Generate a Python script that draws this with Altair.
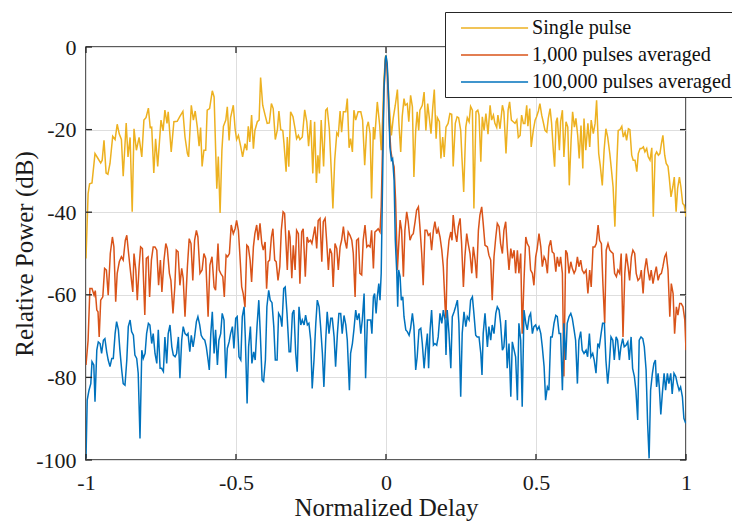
import altair as alt
import pandas as pd

# ---------------- data ----------------
series_names = ["Single pulse", "1,000 pulses averaged", "100,000 pulses averaged"]
series_colors = ["#EDB120", "#D95319", "#0072BD"]

single_x = [
    -1.000,-0.993,-0.988,-0.980,-0.970,-0.960,-0.951,-0.946,-0.940,-0.933,
    -0.927,-0.920,-0.911,-0.903,-0.896,-0.889,-0.882,-0.876,-0.866,-0.860,
    -0.853,-0.846,-0.840,-0.832,-0.823,-0.814,-0.807,-0.800,-0.792,-0.786,
    -0.781,-0.774,-0.768,-0.761,-0.750,-0.743,-0.737,-0.730,-0.726,-0.716,
    -0.707,-0.696,-0.687,-0.677,-0.670,
    -0.662,-0.658,-0.649,-0.642,-0.636,-0.629,-0.623,-0.618,-0.613,-0.607,
    -0.601,-0.596,-0.588,-0.579,-0.573,-0.564,-0.559,-0.553,-0.547,-0.542,
    -0.534,-0.529,-0.523,-0.518,-0.509,-0.503,-0.498,-0.492,-0.484,-0.478,
    -0.470,-0.464,-0.459,-0.454,-0.448,-0.442,-0.437,-0.429,-0.423,-0.418,
    -0.411,-0.403,-0.396,-0.389,-0.382,-0.376,-0.369,-0.362,-0.357,-0.351,
    -0.344,-0.340,-0.333,
    -0.329,-0.324,-0.318,-0.310,-0.303,-0.298,-0.292,-0.287,-0.279,-0.271,
    -0.264,-0.258,-0.251,-0.244,-0.238,-0.232,-0.227,-0.222,-0.216,-0.208,
    -0.201,-0.196,-0.189,-0.182,-0.177,-0.171,-0.164,-0.159,-0.153,-0.148,
    -0.142,-0.134,-0.129,-0.123,-0.118,-0.112,-0.107,-0.101,-0.093,-0.084,
    -0.078,-0.071,-0.064,-0.059,-0.053,-0.048,-0.042,-0.038,-0.029,-0.021,
    -0.016,-0.011,-0.007,-0.002,
    0.000,0.004,0.011,0.018,0.024,0.031,0.038,0.043,0.049,0.054,
    0.060,0.064,0.071,0.076,0.082,0.088,0.093,0.099,0.104,0.109,
    0.113,0.121,0.127,0.133,0.139,0.144,0.150,0.156,0.161,0.167,
    0.171,0.178,0.183,0.189,0.194,0.200,0.207,0.213,0.219,0.224,
    0.231,0.237,0.242,0.249,0.253,0.259,0.266,0.271,0.277,0.282,
    0.288,0.293,0.300,0.306,0.310,0.316,0.321,0.327,0.333,
    0.340,0.347,0.352,0.358,0.363,0.369,0.373,0.380,0.388,0.393,
    0.400,0.407,0.412,0.418,0.424,0.430,0.436,0.441,0.447,0.452,
    0.458,0.463,0.469,0.473,0.479,0.484,0.491,0.497,0.502,0.508,
    0.513,0.519,0.524,0.530,0.536,0.541,0.547,0.552,0.558,0.562,
    0.567,0.571,0.578,0.582,0.588,0.593,0.600,0.606,0.611,0.617,
    0.622,0.628,0.633,0.639,0.644,0.650,0.656,0.660,
    0.666,0.673,0.679,0.684,0.691,0.697,0.702,0.709,0.714,0.721,
    0.727,0.733,0.739,0.746,0.751,0.757,0.763,0.769,0.774,0.780,
    0.786,0.791,0.797,0.802,0.808,0.813,0.819,0.824,0.830,0.836,
    0.841,0.847,0.852,0.858,0.863,0.869,0.874,0.880,0.886,0.891,
    0.897,0.902,0.908,0.913,0.918,0.923,0.929,0.934,0.940,0.944,
    0.950,0.956,0.961,0.967,0.972,0.978,0.983,0.989,0.994,1.000,
]
single_db = [
    -51.2,-35.5,-33.1,-32.9,-25.8,-27.0,-28.1,-27.4,-22.6,-30.5,
    -30.8,-28.2,-21.6,-22.4,-18.7,-21.1,-22.4,-31.3,-18.4,-26.6,
    -21.9,-39.9,-19.8,-25.0,-21.9,-26.6,-17.7,-17.1,-14.8,-19.5,
    -19.4,-30.5,-22.2,-28.9,-17.7,-20.3,-15.3,-18.5,-15.7,-25.4,
    -18.1,-18.0,-16.8,-15.6,-21.8,
    -25.8,-26.6,-14.1,-17.7,-15.5,-19.4,-24.0,-19.5,-28.9,-25.0,
    -25.0,-15.3,-14.9,-10.6,-12.1,-34.3,-26.5,-40.2,-25.0,-19.2,
    -17.7,-14.5,-22.6,-17.1,-14.1,-19.8,-22.4,-21.4,-24.2,-26.6,
    -23.4,-25.0,-19.2,-23.0,-16.5,-24.6,-20.2,-18.1,-17.7,-7.4,
    -14.1,-16.5,-18.5,-18.4,-13.7,-14.9,-22.4,-20.0,-15.5,-20.0,
    -20.2,-23.4,-30.2,
    -21.8,-29.0,-15.7,-16.9,-19.8,-22.2,-21.4,-22.4,-21.8,-15.2,
    -18.1,-24.0,-17.7,-30.6,-18.1,-32.9,-26.2,-30.6,-17.7,-28.9,
    -15.3,-14.9,-19.8,-30.6,-39.1,-27.4,-20.8,-21.4,-15.5,-20.6,
    -15.7,-15.7,-12.5,-24.4,-22.2,-25.4,-15.3,-17.7,-15.7,-15.7,
    -17.7,-28.6,-19.4,-18.1,-21.0,-36.7,-19.4,-22.4,-13.3,-19.0,
    -25.0,-16.9,-8.1,-2.4,
    -2.0,-4.8,-14.5,-21.4,-17.3,-14.1,-10.3,-18.5,-25.4,-16.9,
    -12.5,-14.1,-13.7,-18.1,-11.7,-14.5,-31.5,-20.2,-15.7,-20.2,
    -15.3,-14.1,-10.9,-20.2,-13.7,-16.9,-21.0,-14.5,-10.3,-22.2,
    -17.1,-18.1,-27.0,-21.8,-26.6,-19.4,-18.5,-16.1,-16.3,-28.9,
    -18.5,-16.9,-17.1,-20.2,-26.6,-35.1,-19.4,-17.1,-18.1,-14.4,
    -15.3,-39.1,-15.7,-15.3,-16.5,-27.8,-16.9,-20.2,-16.1,
    -21.1,-14.1,-17.7,-16.5,-18.5,-19.5,-16.5,-19.8,-14.1,-15.7,
    -25.8,-15.3,-13.3,-17.7,-18.1,-18.5,-17.7,-21.9,-21.4,-16.5,
    -18.5,-18.5,-14.1,-19.2,-14.9,-24.2,-20.2,-17.7,-16.9,-15.5,
    -13.7,-16.5,-18.1,-20.2,-20.6,-17.3,-14.9,-18.5,-25.4,-29.0,
    -18.1,-17.1,-25.0,-18.1,-15.3,-26.6,-18.1,-19.4,-33.5,-22.6,
    -15.7,-19.4,-17.3,-21.4,-27.0,-19.0,-29.4,-17.3,
    -25.0,-18.5,-24.2,-17.7,-21.0,-18.5,-12.9,-25.8,-28.6,-33.5,
    -25.0,-19.8,-21.8,-25.8,-29.4,-33.9,-43.5,-29.0,-20.2,-20.0,
    -19.2,-21.8,-20.6,-22.6,-19.8,-20.0,-26.2,-27.4,-27.4,-30.2,
    -25.8,-24.6,-24.6,-24.2,-25.4,-24.6,-26.6,-27.4,-24.4,-41.1,
    -26.2,-25.4,-26.2,-25.8,-23.4,-21.4,-26.2,-28.2,-28.9,-31.5,
    -36.3,-33.9,-31.5,-39.9,-34.3,-31.5,-33.9,-37.9,-38.3,-41.1,
]

avg1k_x = [
    -1.000,-0.993,-0.987,-0.980,-0.973,-0.969,-0.964,-0.960,-0.956,-0.951,
    -0.944,-0.938,-0.932,-0.926,-0.919,-0.912,-0.907,-0.901,-0.896,-0.889,
    -0.882,-0.876,-0.869,-0.864,-0.858,-0.851,-0.844,-0.840,-0.834,-0.829,
    -0.823,-0.818,-0.812,-0.804,-0.799,-0.793,-0.788,-0.782,-0.776,-0.770,
    -0.764,-0.758,-0.752,-0.747,-0.740,-0.734,-0.729,-0.722,-0.717,-0.710,
    -0.704,-0.699,-0.693,-0.687,-0.681,-0.676,-0.670,
    -0.662,-0.656,-0.650,-0.644,-0.638,-0.632,-0.627,-0.620,-0.613,-0.607,
    -0.601,-0.593,-0.587,-0.580,-0.573,-0.568,-0.560,-0.556,-0.551,-0.544,
    -0.539,-0.533,-0.528,-0.522,-0.516,-0.509,-0.503,-0.498,-0.492,-0.487,
    -0.481,-0.476,-0.470,-0.464,-0.459,-0.453,-0.448,-0.442,-0.437,-0.431,
    -0.426,-0.420,-0.414,-0.409,-0.403,-0.398,-0.393,-0.388,-0.382,-0.377,
    -0.371,-0.366,-0.360,-0.354,-0.349,-0.343,-0.338,
    -0.329,-0.324,-0.320,-0.314,-0.309,-0.303,-0.298,-0.292,-0.287,-0.281,
    -0.276,-0.269,-0.263,-0.258,-0.252,-0.247,-0.241,-0.237,-0.231,-0.226,
    -0.220,-0.214,-0.209,-0.203,-0.198,-0.192,-0.187,-0.181,-0.176,-0.170,
    -0.164,-0.159,-0.153,-0.148,-0.142,-0.137,-0.131,-0.126,-0.120,-0.114,
    -0.109,-0.103,-0.098,-0.092,-0.087,-0.081,-0.076,-0.070,-0.064,-0.059,
    -0.053,-0.048,-0.042,-0.037,-0.031,-0.026,-0.020,-0.016,-0.011,-0.007,-0.002,
    0.000,0.004,0.010,0.016,0.021,0.027,0.032,0.038,0.042,0.047,
    0.052,0.058,0.063,0.069,0.074,0.080,0.086,0.091,0.097,0.102,
    0.108,0.113,0.119,0.124,0.130,0.136,0.141,0.147,0.152,0.158,
    0.163,0.169,0.174,0.180,0.186,0.191,0.197,0.200,0.204,0.210,
    0.216,0.220,0.224,0.230,0.236,0.241,0.247,0.252,0.258,0.263,
    0.269,0.274,0.280,0.286,0.291,0.297,0.302,0.308,0.313,0.319,
    0.324,0.330,
    0.338,0.343,0.349,0.354,0.360,0.366,0.371,0.377,0.382,0.388,
    0.393,0.399,0.404,0.410,0.416,0.421,0.427,0.432,0.438,0.443,
    0.449,0.454,0.460,0.466,0.471,0.477,0.482,0.488,0.493,0.499,
    0.504,0.510,0.516,0.521,0.527,0.532,0.538,0.543,0.549,0.554,
    0.560,0.566,0.571,0.577,0.582,0.588,0.593,0.599,0.604,0.610,
    0.616,0.621,0.627,0.632,0.638,0.643,0.649,0.654,0.660,
    0.667,0.673,0.679,0.684,0.690,0.696,0.701,0.707,0.712,0.718,
    0.723,0.729,0.734,0.740,0.746,0.751,0.757,0.762,0.768,0.773,
    0.779,0.784,0.790,0.796,0.801,0.807,0.812,0.818,0.823,0.829,
    0.834,0.840,0.846,0.851,0.857,0.862,0.868,0.873,0.879,0.884,
    0.890,0.896,0.901,0.907,0.912,0.918,0.923,0.929,0.934,0.940,
    0.946,0.951,0.957,0.962,0.968,0.973,0.979,0.984,0.990,0.996,1.000,
]
avg1k_db = [
    -77.0,-71.0,-58.5,-58.5,-60.1,-59.0,-63.7,-64.1,-70.2,-61.3,
    -60.5,-53.6,-54.0,-60.1,-50.0,-46.0,-48.4,-61.7,-54.8,-52.0,
    -50.8,-51.6,-46.8,-45.6,-50.0,-54.8,-59.3,-50.0,-54.0,-61.3,
    -53.2,-48.4,-48.8,-64.9,-51.2,-50.8,-60.5,-51.6,-48.4,-48.4,
    -49.2,-57.7,-51.6,-59.3,-51.6,-47.6,-48.8,-54.8,-56.5,-64.5,
    -58.1,-49.2,-49.6,-57.7,-53.6,-56.0,-65.3,
    -53.2,-46.4,-47.6,-56.5,-46.8,-44.4,-46.0,-54.8,-54.0,-50.0,
    -51.2,-65.3,-52.8,-50.8,-58.1,-58.9,-47.6,-54.0,-54.8,-55.6,
    -60.5,-50.4,-50.8,-50.0,-43.1,-45.2,-44.0,-42.0,-44.4,-50.4,
    -58.1,-59.7,-63.0,-48.0,-48.4,-51.6,-56.9,-48.4,-45.2,-43.1,
    -46.8,-42.7,-47.6,-49.2,-47.2,-58.5,-52.0,-51.6,-46.0,-44.0,
    -51.6,-52.0,-56.5,-53.2,-44.4,-39.9,-40.3,
    -54.0,-44.4,-46.0,-56.0,-48.0,-54.0,-44.4,-45.2,-57.3,-44.8,
    -44.0,-55.6,-46.0,-47.2,-46.8,-47.6,-45.2,-43.5,-48.8,-42.0,
    -41.5,-52.0,-42.3,-41.5,-46.8,-54.0,-48.8,-50.0,-58.1,-47.6,
    -48.8,-54.0,-48.4,-46.8,-43.5,-46.8,-48.8,-44.8,-45.6,-46.8,
    -50.0,-60.5,-46.8,-46.4,-54.8,-55.2,-46.8,-43.1,-48.4,-48.0,
    -48.4,-44.4,-53.6,-44.8,-44.4,-44.0,-44.8,-38.7,-22.6,-11.3,-3.2,
    -2.3,-5.6,-17.7,-25.0,-27.4,-29.0,-37.1,-54.0,-48.4,-41.9,
    -44.4,-55.6,-44.4,-39.9,-42.3,-46.8,-45.6,-45.2,-42.3,-39.5,
    -38.7,-43.5,-50.0,-57.7,-44.4,-44.4,-45.6,-45.2,-49.2,-44.4,
    -42.3,-45.2,-44.0,-46.0,-49.2,-53.2,-62.9,-65.7,-51.6,-46.8,
    -44.8,-46.8,-40.7,-44.8,-47.2,-43.5,-41.5,-47.6,-58.1,-50.8,
    -45.2,-47.6,-50.0,-54.8,-48.4,-51.6,-56.0,-44.4,-40.7,-38.7,
    -42.7,-48.0,
    -48.4,-50.4,-51.6,-61.3,-50.8,-46.0,-42.7,-43.5,-47.6,-50.0,
    -44.4,-42.3,-48.4,-54.0,-48.8,-51.2,-49.2,-54.8,-49.2,-54.8,
    -50.0,-69.4,-56.5,-46.0,-47.6,-48.4,-54.0,-54.8,-57.7,-50.8,
    -48.8,-45.2,-48.4,-53.2,-50.8,-51.6,-54.8,-48.4,-46.8,-49.6,
    -50.0,-54.4,-50.8,-53.2,-50.8,-54.8,-79.8,-49.2,-50.0,-54.8,
    -52.0,-53.6,-54.8,-54.0,-50.8,-53.2,-51.6,-54.0,-54.8,
    -54.0,-59.7,-54.0,-58.1,-48.4,-48.4,-47.6,-43.1,-46.8,-47.6,
    -57.3,-66.9,-49.2,-47.6,-49.2,-49.6,-50.0,-54.8,-55.6,-54.0,
    -54.8,-50.0,-70.2,-54.8,-50.0,-53.2,-56.5,-50.8,-49.2,-50.0,
    -54.8,-56.5,-56.0,-54.0,-59.7,-54.0,-51.2,-54.0,-56.5,-54.0,
    -57.3,-54.8,-53.2,-56.5,-55.2,-54.8,-53.2,-50.8,-50.0,-54.0,
    -65.3,-57.3,-59.7,-69.4,-62.9,-64.9,-62.1,-62.1,-62.9,-66.1,-73.4,
]

avg100k_x = [
    -1.000,-0.996,-0.990,-0.984,-0.980,-0.974,-0.970,-0.964,-0.959,-0.953,
    -0.948,-0.942,-0.937,-0.931,-0.926,-0.920,-0.914,-0.909,-0.903,-0.898,
    -0.892,-0.887,-0.881,-0.876,-0.870,-0.864,-0.859,-0.853,-0.848,-0.842,
    -0.837,-0.831,-0.826,-0.820,-0.814,-0.809,-0.803,-0.798,-0.792,-0.787,
    -0.781,-0.776,-0.770,-0.764,-0.759,-0.753,-0.748,-0.742,-0.737,-0.731,
    -0.726,-0.720,-0.714,-0.709,-0.703,-0.698,-0.692,-0.687,-0.681,-0.676,
    -0.670,-0.664,
    -0.660,-0.654,-0.649,-0.643,-0.638,-0.632,-0.627,-0.621,-0.616,-0.610,
    -0.604,-0.599,-0.593,-0.589,-0.584,-0.579,-0.573,-0.568,-0.562,-0.557,
    -0.551,-0.546,-0.540,-0.534,-0.529,-0.523,-0.518,-0.512,-0.507,-0.501,
    -0.496,-0.490,-0.484,-0.479,-0.473,-0.469,-0.463,-0.458,-0.452,-0.447,
    -0.441,-0.436,-0.430,-0.424,-0.419,-0.413,-0.408,-0.402,-0.397,-0.391,
    -0.386,-0.380,-0.374,-0.369,-0.363,-0.358,-0.352,-0.347,-0.341,-0.336,-0.330,
    -0.323,-0.318,-0.312,-0.307,-0.301,-0.296,-0.290,-0.284,-0.279,-0.273,
    -0.268,-0.262,-0.257,-0.251,-0.246,-0.240,-0.234,-0.229,-0.223,-0.218,
    -0.212,-0.207,-0.201,-0.196,-0.190,-0.184,-0.179,-0.173,-0.168,-0.162,
    -0.157,-0.151,-0.146,-0.140,-0.134,-0.129,-0.122,-0.118,-0.112,-0.107,
    -0.101,-0.096,-0.090,-0.084,-0.079,-0.073,-0.068,-0.062,-0.057,-0.051,
    -0.047,-0.042,-0.038,-0.033,-0.029,-0.024,-0.020,-0.016,-0.011,-0.007,-0.002,
    0.000,0.004,0.009,0.013,0.018,0.022,0.027,0.031,0.036,0.039,
    0.042,0.047,0.051,0.056,0.060,0.066,0.071,0.077,0.082,0.088,
    0.093,0.099,0.104,0.110,0.116,0.121,0.127,0.132,0.138,0.142,
    0.147,0.152,0.158,0.163,0.169,0.174,0.180,0.186,0.191,0.197,
    0.200,0.204,0.210,0.216,0.221,0.227,0.232,0.238,0.243,0.249,
    0.254,0.260,0.266,0.271,0.277,0.282,0.288,0.293,0.299,0.304,
    0.310,0.316,0.320,0.324,0.330,
    0.338,0.343,0.349,0.354,0.360,0.366,0.371,0.377,0.382,0.388,
    0.393,0.399,0.404,0.410,0.416,0.421,0.427,0.432,0.438,0.443,
    0.449,0.454,0.460,0.466,0.471,0.477,0.482,0.488,0.493,0.499,
    0.504,0.510,0.516,0.521,0.527,0.532,0.538,0.543,0.549,0.554,
    0.560,0.566,0.571,0.577,0.582,0.588,0.593,0.599,0.604,0.610,
    0.616,0.621,0.627,0.632,0.638,0.643,0.649,0.654,0.660,
    0.667,0.672,0.678,0.683,0.689,0.694,0.700,0.706,0.711,0.717,
    0.722,0.728,0.733,0.739,0.744,0.750,0.756,0.761,0.767,0.772,
    0.778,0.783,0.789,0.794,0.800,0.806,0.811,0.817,0.822,0.828,
    0.833,0.839,0.844,0.850,0.856,0.861,0.867,0.872,0.877,0.882,
    0.888,0.893,0.898,0.902,0.907,0.911,0.916,0.921,0.927,0.932,
    0.938,0.943,0.949,0.954,0.960,0.966,0.971,0.977,0.982,0.988,
    0.993,0.999,
]
avg100k_db = [
    -99.6,-85.5,-83.1,-81.5,-76.2,-77.0,-85.9,-73.4,-71.4,-71.8,
    -74.2,-71.0,-70.6,-73.8,-75.8,-77.4,-75.4,-75.4,-69.4,-66.5,
    -68.5,-73.4,-78.2,-81.5,-81.9,-75.8,-67.7,-66.1,-68.9,-69.8,
    -74.6,-75.4,-79.0,-94.8,-73.4,-75.4,-74.2,-69.4,-66.9,-67.3,
    -71.8,-69.4,-74.2,-76.6,-68.5,-77.8,-77.8,-78.6,-70.2,-76.6,
    -69.4,-67.3,-72.6,-74.6,-75.0,-74.2,-70.2,-80.2,-71.0,-67.7,
    -69.4,-69.8,
    -69.4,-73.8,-69.8,-72.6,-70.2,-66.5,-65.3,-67.3,-69.8,-70.6,
    -71.0,-72.6,-75.8,-78.2,-69.4,-64.1,-74.2,-68.5,-77.0,-71.0,
    -69.4,-64.5,-66.1,-80.2,-73.0,-71.4,-69.4,-67.7,-73.0,-65.7,
    -65.3,-75.0,-75.8,-65.3,-62.9,-70.2,-86.3,-72.6,-67.7,-76.6,
    -73.8,-75.8,-67.7,-61.3,-69.4,-80.6,-81.0,-75.8,-62.9,-58.9,
    -61.3,-61.9,-67.7,-75.8,-75.8,-64.5,-65.3,-67.7,-58.5,-58.1,-64.5,
    -73.8,-73.8,-64.5,-63.7,-74.2,-78.6,-62.9,-67.3,-66.1,-67.3,
    -64.9,-67.3,-66.9,-71.0,-82.7,-75.8,-66.9,-61.3,-62.9,-67.7,
    -74.2,-82.3,-71.0,-64.1,-69.4,-65.7,-65.7,-70.2,-77.4,-69.4,
    -64.5,-64.5,-69.4,-65.0,-67.3,-71.0,-83.1,-74.2,-71.8,-68.5,
    -63.7,-66.1,-64.5,-69.4,-66.1,-59.7,-80.2,-66.1,-66.1,-66.1,
    -69.4,-60.5,-59.7,-64.5,-60.5,-57.3,-61.3,-54.8,-30.6,-10.5,-2.8,
    -2.0,-4.0,-12.9,-24.2,-27.4,-27.0,-32.3,-46.8,-54.8,-62.9,
    -54.0,-55.6,-61.3,-60.5,-65.3,-68.5,-68.9,-69.8,-68.1,-64.5,
    -67.7,-78.2,-75.0,-68.5,-68.1,-71.8,-77.8,-73.4,-69.4,-77.8,
    -68.5,-63.7,-72.2,-71.8,-72.2,-70.2,-64.5,-66.9,-63.7,-66.1,
    -74.6,-63.7,-69.4,-77.8,-65.3,-64.1,-62.9,-61.3,-66.9,-84.7,
    -69.4,-64.1,-67.7,-65.3,-66.1,-61.3,-60.5,-64.5,-69.8,-70.2,
    -70.2,-74.2,-79.4,-69.4,-64.5,
    -72.6,-67.7,-71.0,-67.3,-69.4,-64.5,-62.9,-63.7,-66.9,-73.4,
    -72.6,-66.1,-77.8,-71.8,-84.7,-71.4,-73.4,-75.0,-85.5,-66.9,
    -71.0,-87.1,-63.7,-66.9,-68.5,-65.3,-64.5,-69.4,-67.7,-67.3,
    -68.5,-67.7,-69.4,-72.6,-77.4,-85.5,-82.3,-83.1,-70.2,-70.2,
    -66.9,-65.0,-65.3,-69.4,-69.4,-83.1,-66.9,-75.8,-66.9,-65.3,
    -64.5,-65.7,-68.5,-71.0,-81.5,-71.0,-68.9,-73.4,-74.2,
    -73.4,-75.0,-69.4,-75.0,-74.2,-75.8,-79.0,-71.8,-72.6,-69.4,
    -66.9,-66.9,-75.8,-81.5,-77.4,-70.2,-71.0,-75.8,-70.2,-71.0,
    -75.8,-72.6,-70.6,-72.6,-72.2,-71.4,-75.8,-70.2,-77.8,-79.8,
    -83.1,-90.3,-71.0,-70.2,-70.6,-72.6,-78.2,-91.1,-99.6,-83.1,
    -79.0,-76.6,-75.8,-82.3,-79.0,-82.3,-89.0,-84.0,-79.0,-83.1,
    -79.0,-81.5,-79.0,-84.0,-79.0,-79.8,-81.5,-83.1,-82.3,-84.7,
    -89.9,-91.1,
]

x_ticks = [-1, -0.5, 0, 0.5, 1]
y_ticks = [0, -20, -40, -60, -80, -100]

# ---------------- chart ----------------
SERIF = "Liberation Serif"
INK = "#262626"
W, H = 600, 413

def frame(name, xs, ys):
    assert len(xs) == len(ys), name
    return pd.DataFrame({"delay": xs, "power": ys, "series": name})

color = alt.Color(
    "series:N",
    scale=alt.Scale(domain=series_names, range=series_colors),
    legend=alt.Legend(
        title=None, orient="none", legendX=359, legendY=-35,
        fillColor="white", strokeColor=INK, padding=4,
        symbolType="M0,0H6", symbolSize=500, symbolStrokeWidth=1.5,
        labelFont=SERIF, labelFontSize=20.2, labelColor="#111111",
        labelOffset=59, rowPadding=4, labelLimit=400,
    ),
)

x_enc = alt.X(
    "delay:Q",
    scale=alt.Scale(domain=[-1, 1], nice=False, zero=False),
    axis=alt.Axis(
        values=x_ticks, title="Normalized Delay", labelExpr="'' + datum.value",
        labelFlush=False, labelPadding=29, labelBaseline="alphabetic",
        titleY=55, titleBaseline="alphabetic", titleFontSize=25,
    ),
)
y_enc = alt.Y(
    "power:Q",
    scale=alt.Scale(domain=[-100, 0], nice=False, zero=False),
    axis=alt.Axis(
        values=y_ticks, title="Relative Power (dB)", labelExpr="'' + datum.value",
        labelFlush=False, labelPadding=10,
        titleX=-62, titleY=H / 2, titleBaseline="middle", titleAngle=270,
        titleFontSize=25,
    ),
)

layers = []
for name, xs, ys in [
    (series_names[0], single_x, single_db),
    (series_names[1], avg1k_x, avg1k_db),
    (series_names[2], avg100k_x, avg100k_db),
]:
    layers.append(
        alt.Chart(frame(name, xs, ys))
        .mark_line(strokeWidth=1.5, clip=True)
        .encode(x=x_enc, y=y_enc, color=color)
    )

# inward tick marks on all four sides of the box
xt = pd.DataFrame({"delay": x_ticks})
yt = pd.DataFrame({"power": y_ticks})
tick_style = dict(color=INK, strokeWidth=1.3)
ticks = [
    alt.Chart(xt).mark_rule(**tick_style).encode(x=x_enc, y=alt.value(H), y2=alt.value(H - 6)),
    alt.Chart(xt).mark_rule(**tick_style).encode(x=x_enc, y=alt.value(0), y2=alt.value(6)),
    alt.Chart(yt).mark_rule(**tick_style).encode(y=y_enc, x=alt.value(0), x2=alt.value(6)),
    alt.Chart(yt).mark_rule(**tick_style).encode(y=y_enc, x=alt.value(W), x2=alt.value(W - 6)),
]

chart = (
    alt.layer(*layers, *ticks)
    .properties(
        width=W, height=H,
        autosize=alt.AutoSizeParams(type="none"),
        padding={"left": 78, "top": 39, "right": 46, "bottom": 65},
        background="white",
    )
    .configure_view(stroke=INK, strokeWidth=1.5)
    .configure_axis(
        domain=False, ticks=False, grid=True, gridColor="#dedede", gridWidth=1,
        labelFont=SERIF, labelFontSize=22, labelColor="#1a1a1a",
        titleFont=SERIF, titleFontWeight="normal", titleColor="#1a1a1a",
    )
)

chart.save("out.html", embed_options={"renderer": "svg", "actions": False})
